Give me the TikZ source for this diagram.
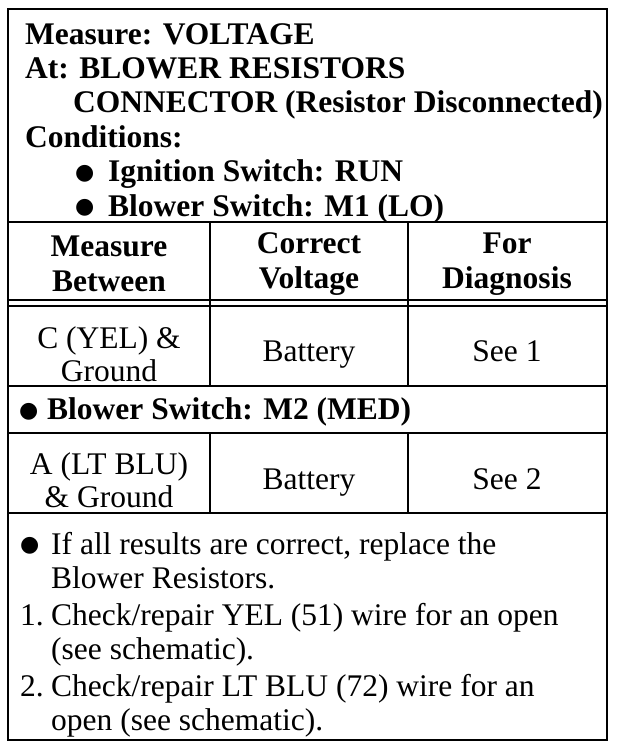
\documentclass[tikz,border=0pt]{standalone}
\usepackage{fontspec}
\setmainfont{Liberation Serif}
\newfontfamily\simbolo{DejaVu Sans}
\usetikzlibrary{positioning}
\newcommand{\bolinha}{\raisebox{2.5pt}{\simbolo\fontsize{22}{22}\selectfont ●}}

\begin{document}
\begin{tikzpicture}[x=1pt, y=-1pt,
    txt/.style={inner sep=0pt, font=\fontsize{31.5}{34.5}\selectfont, align=left},
    cell/.style={inner sep=0pt, font=\fontsize{31.5}{33}\selectfont, align=center},
    negrito/.style={font=\fontsize{31.5}{34.4}\selectfont\bfseries},
    rule/.style={line width=2.4pt}]
    \def\xL{8}
    \def\xA{210}
    \def\xB{408}
    \def\xR{607}
    \def\ind{31pt}

    \useasboundingbox (0,0) rectangle (624,748);

    %moldura e linhas
    \draw[rule] (\xL,9) rectangle (\xR,740);
    \foreach \y in {222, 300, 306, 386, 433, 513} {
        \draw[rule] (\xL,\y) -- (\xR,\y);
    }
    \foreach \x in {\xA, \xB} {
        \draw[rule] (\x,222) -- (\x,386);
        \draw[rule] (\x,433) -- (\x,513);
    }

    %titulo
    \node[txt, negrito, anchor=north west] (titulo) at (25,23) {
        Measure: VOLTAGE\\
        At: BLOWER RESISTORS\\
        \hspace*{48pt}CONNECTOR (Resistor Disconnected)\\
        Conditions:\\
        \hspace*{50pt}\makebox[33pt][l]{\bolinha}Ignition Switch: RUN\\
        \hspace*{50pt}\makebox[33pt][l]{\bolinha}Blower Switch: M1 (LO)};

    %cabecalho da tabela
    \node[cell, negrito] (medir) at (109,264) {Measure\\Between};
    \node[cell, negrito] (tensao) at (309,264) {Correct\\Voltage};
    \node[cell, negrito] (diag) at (507,264) {For\\Diagnosis};

    %linhas da tabela
    \node[cell] (pinoC) at (109,354) {C (YEL) \&\\Ground};
    \node[cell] (pinoA) at (109,480) {A (LT BLU)\\\& Ground};
    \foreach \y/\n in {361/1, 489/2} {
        \node[cell, anchor=base] (bat\n) at (309,\y) {Battery};
        \node[cell, anchor=base] (veja\n) at (507,\y) {See \n};
    }

    \node[txt, negrito, anchor=west] (medio) at (19,412)
        {\makebox[28pt][l]{\bolinha}Blower Switch: M2 (MED)};

    %notas
    \node[txt, anchor=north west] (nota0) at (20,532)
        {\makebox[\ind][l]{\bolinha}If all results are correct, replace the\\
        \hspace*{\ind}Blower Resistors.};
    \node[txt, anchor=north west] (nota1) at (20,603)
        {\makebox[\ind][l]{1.}Check/repair YEL (51) wire for an open\\
        \hspace*{\ind}(see schematic).};
    \node[txt, anchor=north west] (nota2) at (20,674)
        {\makebox[\ind][l]{2.}Check/repair LT BLU (72) wire for an\\
        \hspace*{\ind}open (see schematic).};
\end{tikzpicture}
\end{document}
